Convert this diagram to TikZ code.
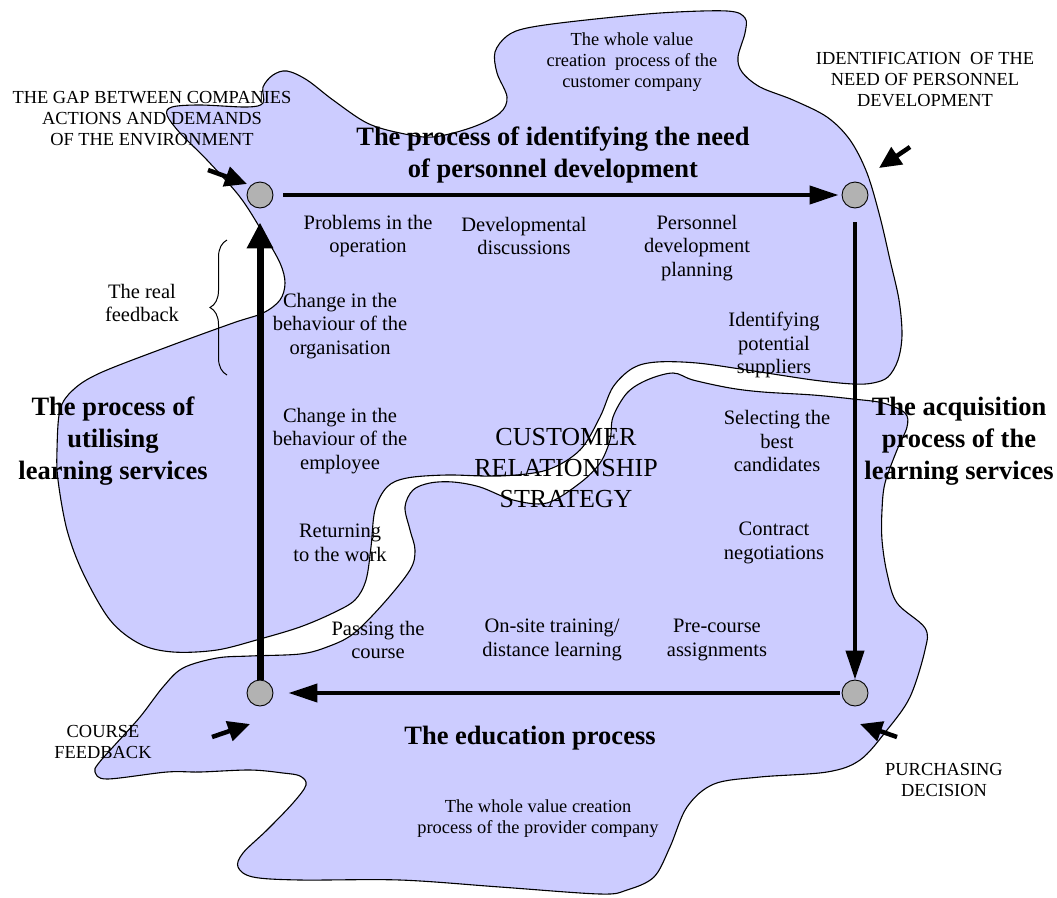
\documentclass[tikz,border=0pt]{standalone}
\usepackage{fontspec}
\setmainfont{Liberation Serif}
\usetikzlibrary{arrows.meta,decorations.pathreplacing}
\definecolor{blobfill}{RGB}{204,204,255}
\definecolor{stagegray}{RGB}{178,178,178}
\tikzset{
  blob/.style={draw=black, line width=1.1pt, fill=blobfill},
  stage/.style={circle, draw=black, line width=0.9pt, fill=stagegray, minimum size=26pt, inner sep=0pt},
  flow/.style={line width=4pt, -{Triangle[length=29pt,width=18pt]}},
  feedflow/.style={line width=7pt, -{Triangle[length=26pt,width=25pt]}},
  trigger/.style={line width=4.5pt, -{Triangle[length=22pt,width=20pt]}},
  item/.style={align=center, inner sep=0pt, font=\fontsize{20.5}{23.5}\selectfont},
  caps/.style={align=center, inner sep=0pt, font=\fontsize{18.4}{21}\selectfont},
  phase/.style={align=center, inner sep=0pt, font=\fontsize{26.5}{32}\selectfont\bfseries},
}

\begin{document}
\begin{tikzpicture}[x=1pt,y=-1pt]
  \useasboundingbox (0,0) rectangle (1057,897);

  % customer company
  \draw[blob] plot[smooth cycle, tension=0.55] coordinates {
    (287,71) (307,80) (333,100) (367,123) (400,133) (433,137) (473,127) (500,113)
    (507,97) (497,73) (495,52) (507,36) (527,28) (577,21) (660,13) (727,11)
    (745,18) (745,33) (738,57) (742,72) (760,87) (793,100) (827,117) (850,140)
    (867,173) (880,217) (890,260) (899,300) (902,335) (898,360) (888,377) (873,383)
    (853,384) (813,380) (747,370) (697,363) (657,362) (633,368) (613,387) (600,417)
    (580,450) (547,470) (500,476) (447,475) (407,478) (387,487) (375,510) (371,547)
    (366,580) (355,600) (333,613) (300,627) (260,639) (217,650) (173,652) (140,644)
    (110,620) (83,573) (67,530) (58,480) (57,450) (60,410) (73,390) (100,373)
    (167,347) (233,323) (263,313) (280,300) (285,283) (280,263) (263,233) (240,197)
    (207,160) (180,133) (167,115) (172,107) (200,105) (247,107) (263,103) (263,87)
    (273,75)};

  % provider company
  \draw[blob] plot[smooth cycle, tension=0.55] coordinates {
    (413,490) (430,483) (453,482) (480,487) (513,500) (547,503) (580,483) (600,463)
    (610,440) (613,417) (627,393) (647,380) (673,373) (693,380) (730,388) (763,392)
    (813,395) (853,399) (883,403) (905,413) (907,427) (897,450) (885,483) (882,510)
    (882,540) (887,573) (897,603) (925,628) (925,650) (910,697) (887,730) (860,760)
    (827,772) (760,777) (714,784) (687,807) (670,847) (654,877) (627,890) (600,894)
    (500,887) (400,880) (300,880) (253,877) (238,867) (243,853) (267,830) (293,803)
    (306,785) (300,776) (283,773) (250,770) (200,772) (167,772) (107,779) (95,772)
    (98,764) (113,747) (140,717) (163,687) (183,668) (217,658) (250,656) (300,654)
    (327,647) (353,634) (383,604) (410,570) (415,550) (410,530) (405,507)};

  \foreach \n/\p in {nw/{260,195}, ne/{855,195}, se/{855,693}, sw/{260,693}}
    \node[stage] (\n) at (\p) {};

  \draw[flow] (nw) -- (ne) [shorten <=10pt, shorten >=3pt];
  \draw[flow] (ne) -- (se) [shorten <=14pt, shorten >=0pt];
  \draw[flow] (se) -- (sw) [shorten <=2pt, shorten >=15pt];
  \draw[feedflow] (sw) -- (nw) [shorten <=0pt, shorten >=14pt];

  % triggers
  \coordinate (gapin) at (208,170);
  \coordinate (gapat) at (247,184);
  \coordinate (needin) at (910,147);
  \coordinate (needat) at (879,168);
  \coordinate (fbin) at (212,737);
  \coordinate (fbat) at (250,724);
  \coordinate (buyin) at (897,737);
  \coordinate (buyat) at (860,724);
  \draw[trigger] (gapin) -- (gapat);
  \draw[trigger] (needin) -- (needat);
  \draw[trigger] (fbin) -- (fbat);
  \draw[trigger] (buyin) -- (buyat);

  \draw[line width=1pt, decorate, decoration={brace, amplitude=17pt}] (227,375) -- (227,240);

  \node[caps] (gap) at (152,119) {THE GAP BETWEEN COMPANIES\\ACTIONS AND DEMANDS\\OF THE ENVIRONMENT};
  \node[caps] (custval) at (632,62) {The whole value\\creation\ \ process of the\\customer company};
  \node[caps] (needlbl) at (925,80) {IDENTIFICATION\ \ OF THE\\NEED OF PERSONNEL\\DEVELOPMENT};
  \node[phase] (identify) at (553,155) {The process of identifying the need\\of personnel development};

  \node[item] (problems) at (368,236) {Problems in the\\operation};
  \node[item] (discuss) at (524,236) {Developmental\\discussions};
  \node[item] (planning) at (697,248) {Personnel\\development\\planning};
  \node[item] (suppliers) at (774,345) {Identifying\\potential\\suppliers};
  \node[item] (orgchange) at (340,326) {Change in the\\behaviour of the\\organisation};
  \node[item] (realfb) at (142,303) {The real\\feedback};

  \node[phase] (utilise) at (113,441) {The process of\\utilising\\learning services};
  \node[item] (empchange) at (340,441) {Change in the\\behaviour of the\\employee};
  \node[align=center, inner sep=0pt, font=\fontsize{26}{31}\selectfont] (crm) at (566,468) {CUSTOMER\\RELATIONSHIP\\STRATEGY};
  \node[item] (select) at (777,441) {Selecting the\\best\\candidates};
  \node[phase] (acquire) at (959,441) {The acquisition\\process of the\\learning services};

  \node[item] (return) at (340,543) {Returning\\to the work};
  \node[item] (contract) at (774,543) {Contract\\negotiations};
  \node[item] (passing) at (378,640) {Passing the\\course};
  \node[item] (onsite) at (552,640) {On-site training/\\distance learning};
  \node[item] (precourse) at (717,640) {Pre-course\\assignments};

  \node[caps] (fblbl) at (103,742) {COURSE\\FEEDBACK};
  \node[phase] (educate) at (530,738) {The education process};
  \node[caps] (buylbl) at (944,780) {PURCHASING\\DECISION};
  \node[caps] (provval) at (538,819) {The whole value creation\\process of the provider company};
\end{tikzpicture}
\end{document}
